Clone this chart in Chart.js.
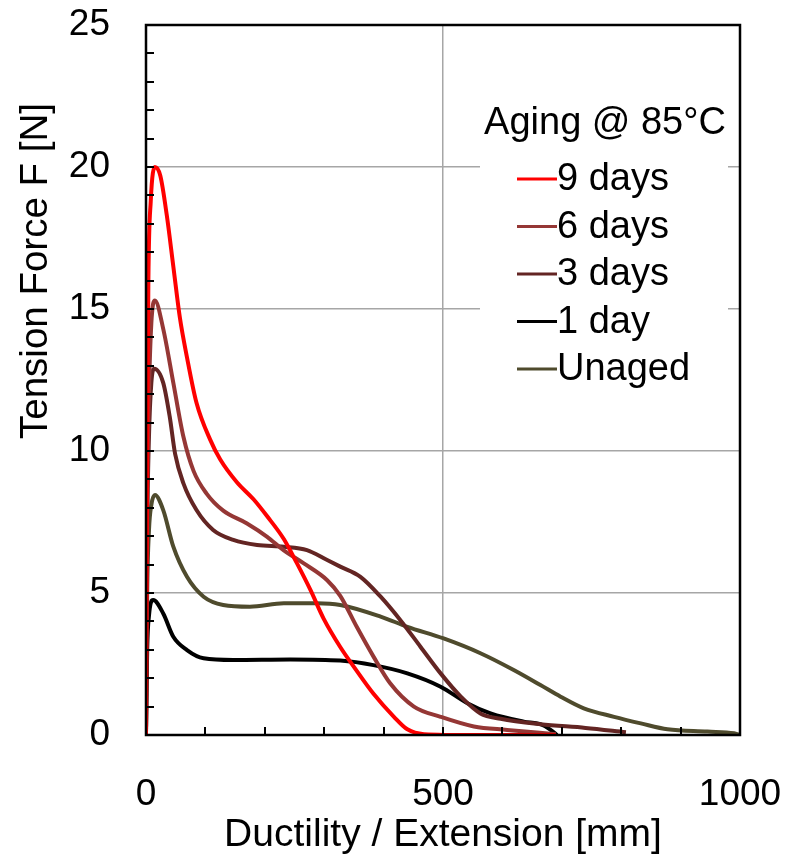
<!DOCTYPE html>
<html>
<head>
<meta charset="utf-8">
<script src="https://cdn.jsdelivr.net/npm/chart.js@4.4.1/dist/chart.umd.min.js"></script>
<style>
  html, body { margin: 0; padding: 0; background: #fff; }
  canvas { display: block; }
</style>
</head>
<body>
<canvas id="chart" width="787" height="861"></canvas>
<script>
// Tension force vs extension
const seriesLabels = ["9 days", "6 days", "3 days", "1 day", "Unaged"]
const seriesColors = ["#ff0000", "#953735", "#632523", "#000000", "#4f4b2d"]

const day9X = [0, 2, 4, 8, 15, 24, 35, 46, 57, 69, 85, 108, 125, 153, 181, 204, 232, 254, 277, 299, 327, 350, 383, 417, 440, 468, 550, 690]
const day9F = [0, 10, 16, 18.8, 20, 19.7, 18.3, 16.5, 14.7, 13.3, 11.7, 10.4, 9.7, 8.9, 8.3, 7.7, 6.9, 6.05, 5.1, 4.1, 3.1, 2.4, 1.45, 0.65, 0.2, 0.03, 0, 0]

const day6X = [0, 2, 5, 9, 15, 29, 46, 63, 80, 102, 130, 170, 204, 232, 265, 305, 327, 355, 383, 411, 451, 496, 552, 608, 690]
const day6F = [0, 8, 12, 14.5, 15.3, 14.3, 12.4, 10.5, 9.3, 8.5, 7.9, 7.45, 6.98, 6.5, 6.05, 5.45, 4.9, 3.8, 2.76, 1.82, 1.0, 0.64, 0.3, 0.18, 0.03]

const day3X = [0, 2, 5, 9, 14, 29, 40, 49, 63, 85, 113, 147, 187, 232, 271, 305, 327, 361, 395, 428, 462, 496, 530, 563, 597, 664, 740, 808]
const day3F = [0, 7, 10.5, 12.4, 12.9, 12.4, 11.2, 9.9, 8.86, 7.92, 7.22, 6.87, 6.69, 6.63, 6.51, 6.16, 5.93, 5.57, 4.87, 4.05, 3.11, 2.17, 1.35, 0.76, 0.57, 0.38, 0.25, 0.1]

const day1X = [0, 2, 5, 12, 29, 46, 69, 97, 147, 243, 327, 383, 440, 496, 541, 580, 636, 664, 680, 692]
const day1F = [0, 3, 4.2, 4.75, 4.28, 3.46, 2.99, 2.7, 2.64, 2.66, 2.62, 2.46, 2.17, 1.7, 1.12, 0.76, 0.47, 0.38, 0.2, 0]

const unagedX = [0, 2, 5, 9, 15, 29, 46, 69, 97, 130, 175, 232, 288, 327, 395, 440, 501, 563, 619, 664, 698, 737, 788, 833, 878, 945, 990, 1000]
const unagedF = [0, 5, 7.2, 8.1, 8.45, 7.92, 6.63, 5.57, 4.87, 4.58, 4.52, 4.64, 4.64, 4.58, 4.17, 3.81, 3.4, 2.88, 2.29, 1.76, 1.35, 0.94, 0.64, 0.41, 0.2, 0.12, 0.06, 0]

const xTicks = [0, 500, 1000]
const yTicks = [0, 5, 10, 15, 20, 25]

const FONT = "'Liberation Sans', Arial, sans-serif"

function zip(xs, ys) {
  return xs.map((x, i) => ({ x: x, y: ys[i] }))
}

const seriesData = [zip(day9X, day9F), zip(day6X, day6F), zip(day3X, day3F), zip(day1X, day1F), zip(unagedX, unagedF)]

// frame, inward minor ticks, legend box and y title
const decorations = {
  id: "decorations",
  afterDatasetsDraw(chart) {
    const ctx = chart.ctx
    const area = chart.chartArea
    const xs = chart.scales.x
    const ys = chart.scales.y
    ctx.save()

    // legend box covers the grid lines behind it
    ctx.fillStyle = "#fff"
    ctx.fillRect(480, 92, 248, 302)
    ctx.fillStyle = "#000"
    ctx.font = "38px " + FONT
    ctx.textBaseline = "middle"
    ctx.textAlign = "center"
    ctx.fillText("Aging @ 85°C", 605, 124)
    ctx.textAlign = "left"
    chart.data.datasets.forEach((ds, i) => {
      const rowY = 179 + i * 47.5
      ctx.strokeStyle = ds.borderColor
      ctx.lineWidth = 3
      ctx.beginPath()
      ctx.moveTo(517, rowY)
      ctx.lineTo(557, rowY)
      ctx.stroke()
      ctx.fillStyle = "#000"
      ctx.fillText(ds.label, 557, rowY + 1)
    })

    // minor ticks pointing into the plot
    ctx.strokeStyle = "#000"
    ctx.lineWidth = 2
    ctx.beginPath()
    for (let v = 1; v < 25; v++) {
      const py = Math.round(ys.getPixelForValue(v))
      ctx.moveTo(area.left, py)
      ctx.lineTo(area.left + 8, py)
    }
    for (let v = 100; v < 1000; v += 100) {
      const px = Math.round(xs.getPixelForValue(v))
      ctx.moveTo(px, area.bottom)
      ctx.lineTo(px, area.bottom - 8)
    }
    ctx.stroke()

    // plot frame
    ctx.lineWidth = 2.5
    ctx.strokeRect(area.left, area.top, area.right - area.left, area.bottom - area.top)

    // y axis title
    ctx.translate(36, 271)
    ctx.rotate(-Math.PI / 2)
    ctx.textAlign = "center"
    ctx.textBaseline = "middle"
    ctx.font = "38.5px " + FONT
    ctx.fillText("Tension Force F [N]", 0, 0)
    ctx.restore()
  }
}

new Chart(document.getElementById("chart"), {
  type: "line",
  data: {
    datasets: seriesLabels.map((label, i) => ({
      label: label,
      data: seriesData[i],
      borderColor: seriesColors[i],
      backgroundColor: seriesColors[i],
      borderWidth: 4,
      pointRadius: 0,
      cubicInterpolationMode: "monotone",
      fill: false
    }))
  },
  options: {
    responsive: false,
    animation: false,
    devicePixelRatio: 1,
    layout: { padding: { left: 0, right: 47, top: 25, bottom: 0 } },
    plugins: {
      legend: { display: false },
      tooltip: { enabled: false }
    },
    scales: {
      x: {
        type: "linear",
        min: 0,
        max: 1000,
        afterFit(scale) {
          scale.height = 126
          scale.paddingLeft = 0
          scale.paddingRight = 0
        },
        afterBuildTicks(scale) { scale.ticks = xTicks.map(v => ({ value: v })) },
        border: { display: false },
        grid: {
          drawTicks: false,
          color: ctx => (ctx.tick && ctx.tick.value === 500 ? "#a6a6a6" : "rgba(0,0,0,0)"),
          lineWidth: 1.5
        },
        ticks: {
          color: "#000",
          padding: 38,
          maxRotation: 0,
          callback: v => String(v),
          font: { family: FONT, size: 37 }
        },
        title: {
          display: true,
          text: "Ductility / Extension [mm]",
          color: "#000",
          font: { family: FONT, size: 39 },
          padding: { top: 0, bottom: 2 }
        }
      },
      y: {
        min: 0,
        max: 25,
        afterFit(scale) {
          scale.width = 146
          scale.paddingTop = 0
          scale.paddingBottom = 0
        },
        afterBuildTicks(scale) { scale.ticks = yTicks.map(v => ({ value: v })) },
        border: { display: false },
        grid: {
          drawTicks: false,
          color: ctx => (ctx.tick && ctx.tick.value > 0 && ctx.tick.value < 25 ? "#a6a6a6" : "rgba(0,0,0,0)"),
          lineWidth: 1.5
        },
        ticks: {
          color: "#000",
          padding: 36,
          callback: v => String(v),
          font: { family: FONT, size: 37 }
        }
      }
    }
  },
  plugins: [decorations]
})
</script>
</body>
</html>
